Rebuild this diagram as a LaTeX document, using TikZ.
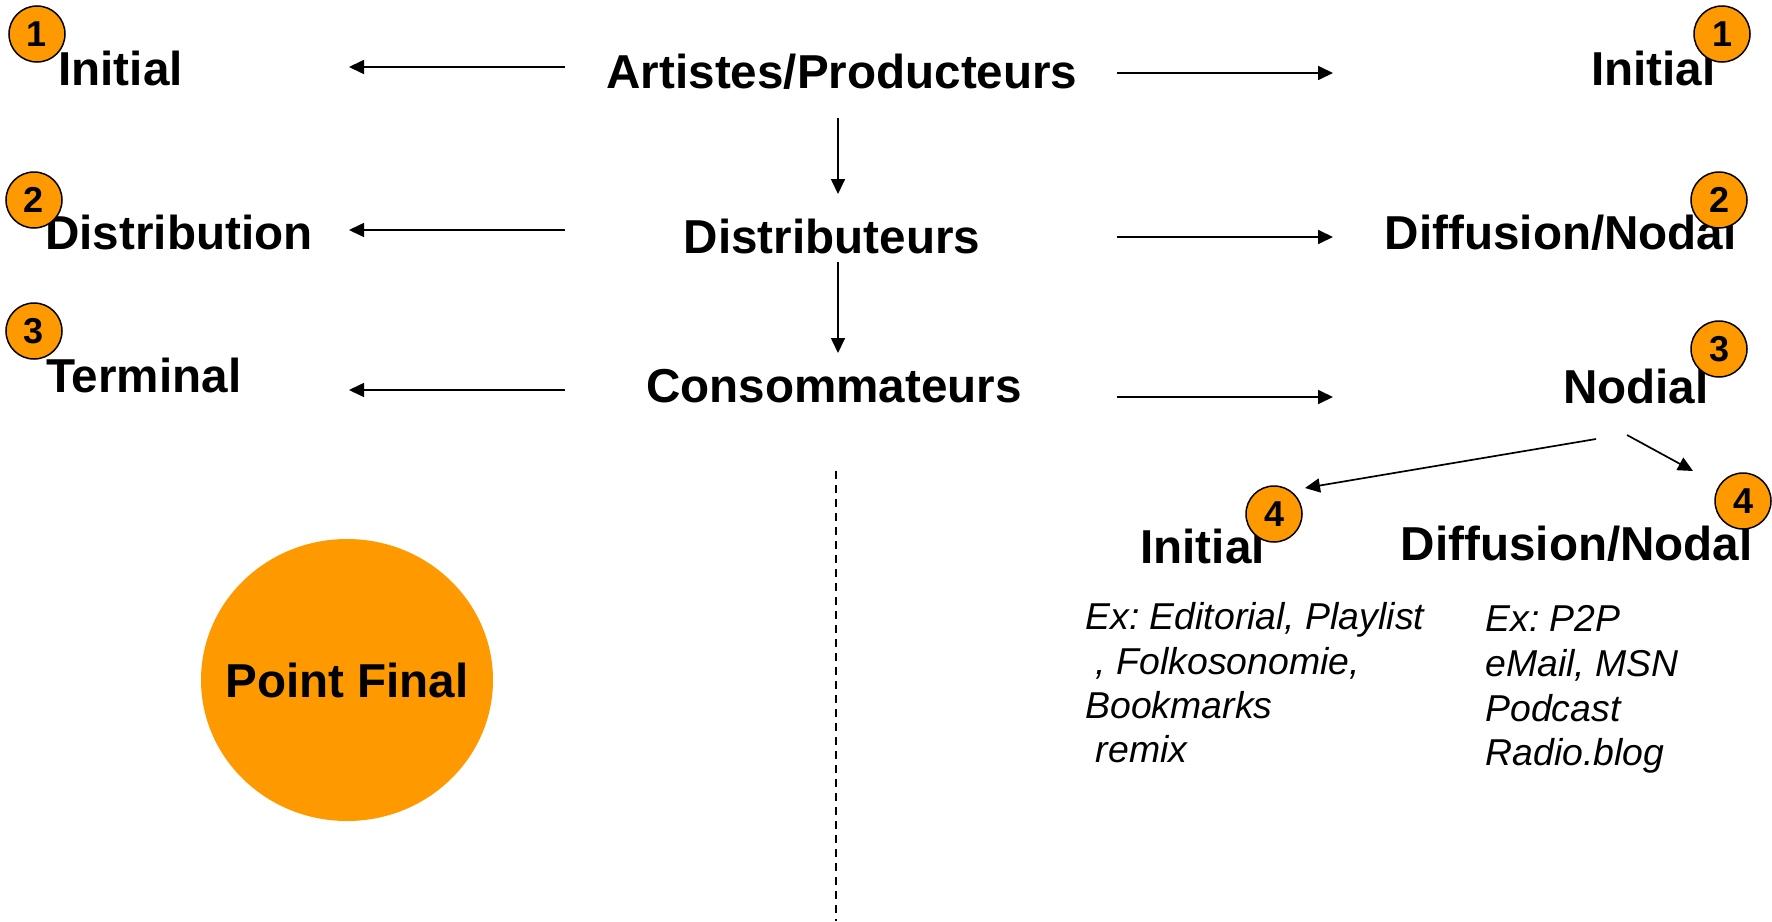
\documentclass[tikz,border=0pt]{standalone}
\usepackage{fontspec}
\setmainfont{Liberation Sans}
\usetikzlibrary{arrows.meta}
\usetikzlibrary{shapes.geometric}
\definecolor{orangeF}{HTML}{FF9900}
\frenchspacing

\tikzset{
    titre/.style={inner sep=0pt, font=\fontsize{23.8}{28}\selectfont\bfseries},
    exemple/.style={inner sep=0pt, anchor=base west, font=\fontsize{18.7}{22}\selectfont\itshape},
    pastille/.style={circle, draw=black, line width=0.75pt, fill=orangeF, minimum size=28pt, inner sep=0pt, font=\fontsize{18}{18}\selectfont\bfseries},
    fleche/.style={line width=0.85pt, -{Triangle[length=7.5pt,width=7pt]}}
}

\begin{document}
\begin{tikzpicture}[x=0.5pt, y=-0.5pt]
    \useasboundingbox (0,0) rectangle (1772,921);
    % colonne centrale
    \node[titre, anchor=base] (artistes) at (842,88) {Artistes/Producteurs};
    \node[titre, anchor=base] (distributeurs) at (832,253) {Distributeurs};
    \node[titre, anchor=base] (consommateurs) at (834,402) {Consommateurs};
    % colonne de gauche
    \node[titre, anchor=base west] (iniG) at (58,85) {Initial};
    \node[titre, anchor=base west] (distG) at (45,249) {Distribution};
    \node[titre, anchor=base west] (termG) at (46,392) {Terminal};
    % colonne de droite
    \node[titre, anchor=base east] (iniD) at (1716,85) {Initial};
    \node[titre, anchor=base east] (diffD) at (1737,249) {Diffusion/Nodal};
    \node[titre, anchor=base east] (nodial) at (1709,403) {Nodial};
    % niveau 4
    \node[titre, anchor=base west] (iniQ) at (1140,563) {Initial};
    \node[titre, anchor=base east] (diffQ) at (1753,560) {Diffusion/Nodal};
    \node[exemple] (exG1) at (1085,629) {Ex: Editorial, Playlist};
    \node[exemple] (exG2) at (1085,674) {\ , Folkosonomie,};
    \node[exemple] (exG3) at (1085,718) {Bookmarks};
    \node[exemple] (exG4) at (1085,762) {\ remix};
    \node[exemple] (exD1) at (1485,631) {Ex: P2P};
    \node[exemple] (exD2) at (1485,676) {eMail, MSN};
    \node[exemple] (exD3) at (1485,721) {Podcast};
    \node[exemple] (exD4) at (1485,765) {Radio.blog};
    % pastilles
    \node[pastille] (p1G) at (37,34) {1};
    \node[pastille] (p2G) at (34,200) {2};
    \node[pastille] (p3G) at (34,331) {3};
    \node[pastille] (p1D) at (1722,34) {1};
    \node[pastille] (p2D) at (1719,200) {2};
    \node[pastille] (p3D) at (1719,349) {3};
    \node[pastille] (p4G) at (1274,514) {4};
    \node[pastille] (p4D) at (1743,501) {4};
    % point final
    \node[ellipse, fill=orangeF, minimum width=146pt, minimum height=141pt, inner sep=0pt] (final) at (347,680) {};
    \node[titre] (finalT) at (final.center) {Point Final};
    % extremites des fleches
    \coordinate (gA) at (565,67);
    \coordinate (gB) at (349,67);
    \coordinate (gC) at (565,230);
    \coordinate (gD) at (349,230);
    \coordinate (gE) at (565,390);
    \coordinate (gF) at (349,390);
    \coordinate (dA) at (1117,73);
    \coordinate (dB) at (1333,73);
    \coordinate (dC) at (1117,237);
    \coordinate (dD) at (1333,237);
    \coordinate (dE) at (1117,397);
    \coordinate (dF) at (1333,397);
    \coordinate (vA) at (838,118);
    \coordinate (vB) at (838,194);
    \coordinate (vC) at (838,262);
    \coordinate (vD) at (838,353);
    \coordinate (nA) at (1596,439);
    \coordinate (nB) at (1305,488);
    \coordinate (nC) at (1627,435);
    \coordinate (nD) at (1693,471);
    \coordinate (sepH) at (836,471);
    \coordinate (sepB) at (836,921);
    % fleches
    \draw[fleche] (gA) -- (gB); % vers Initial
    \draw[fleche] (gC) -- (gD); % vers Distribution
    \draw[fleche] (gE) -- (gF); % vers Terminal
    \draw[fleche] (dA) -- (dB);
    \draw[fleche] (dC) -- (dD);
    \draw[fleche] (dE) -- (dF);
    \draw[fleche] (vA) -- (vB); % artistes -> distributeurs
    \draw[fleche] (vC) -- (vD); % distributeurs -> consommateurs
    \draw[fleche] (nA) -- (nB);
    \draw[fleche] (nC) -- (nD);
    \draw[line width=0.65pt, dash pattern=on 4pt off 3pt] (sepH) -- (sepB); % separation
\end{tikzpicture}
\end{document}
